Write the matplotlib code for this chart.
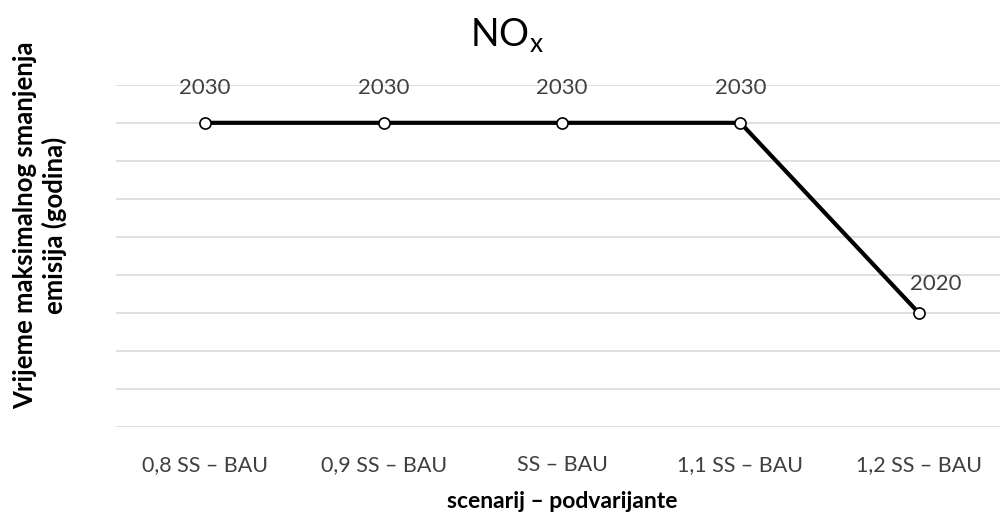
import matplotlib
matplotlib.use('Agg')
import matplotlib.pyplot as plt

# podaci
scenariji = ['0,8 SS – BAU', '0,9 SS – BAU', 'SS – BAU', '1,1 SS – BAU', '1,2 SS – BAU']
godine = [2030, 2030, 2030, 2030, 2020]

plt.rcParams['font.family'] = ['Lato', 'DejaVu Sans']
plt.rcParams['mathtext.fontset'] = 'custom'
plt.rcParams['mathtext.rm'] = 'Lato'

fig = plt.figure(figsize=(10, 5.17), dpi=100)
ax = fig.add_axes([0.116, 0.174, 0.892, 0.662])

x = list(range(len(scenariji)))
ax.plot(x, godine, color='black', linewidth=3, zorder=3,
        marker='o', markersize=8, markerfacecolor='white',
        markeredgecolor='black', markeredgewidth=1.2)

for i, g in enumerate(godine):
    if i == len(godine) - 1:
        off = (12, 21)
    else:
        off = (0, 25)
    ax.annotate(str(g), (i, g), xytext=off, textcoords='offset points',
                ha='center', va='center', fontsize=16, color='#404040')

ax.set_xlim(-0.5, 4.5)
ax.set_ylim(2014, 2032)
ax.set_yticks(range(2014, 2033, 2))
ax.set_yticklabels([])
ax.tick_params(axis='y', length=0)
ax.tick_params(axis='x', length=0, labelsize=15.5, labelcolor='#404040', pad=20)
ax.set_xticks(x)
ax.set_xticklabels(scenariji)
ax.grid(axis='y', color='#d9d9d9', linewidth=1.2)
for s in ax.spines.values():
    s.set_visible(False)

fig.text(0.507, 0.93, 'NO$_\\mathregular{x}$', fontsize=27, ha='center', va='center')
ax.set_xlabel('scenarij – podvarijante', fontsize=16.5, fontweight='bold', labelpad=12)
fig.text(0.040, 1 - 225 / 517, 'Vrijeme maksimalnog smanjenja\nemisija (godina)',
         fontsize=18.5, fontweight='bold', linespacing=1.25, rotation=90,
         ha='center', va='center', multialignment='center')

fig.savefig('out.png', dpi=100)
